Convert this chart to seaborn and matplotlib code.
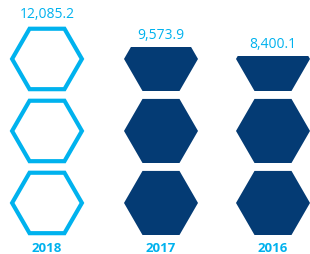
import numpy as np
import seaborn as sns
import matplotlib.pyplot as plt
from matplotlib.patches import Polygon, Rectangle

years = ['2018', '2017', '2016']
values = [12085.2, 9573.9, 8400.1]
# how many hexagons are filled in each column
filled = [3.0, 2.68, 2.54]
outlined = [True, False, False]

light = '#00b2ee'
dark = '#043b74'

sns.set_style('white')
plt.rcParams['font.family'] = ['Open Sans', 'DejaVu Sans']

fig = plt.figure(figsize=(3.1, 2.55), dpi=100)
ax = fig.add_axes([0, 0, 1, 1])
ax.set_xlim(0, 310)
ax.set_ylim(0, 255)
ax.axis('off')

centers = [47, 161, 273]
r = 37
h = np.sqrt(3) * r
pitch = 72
base = 19


def hexagon(cx, cy, rr):
    hh = np.sqrt(3) * rr / 2
    return [(cx - rr, cy), (cx - rr / 2, cy - hh), (cx + rr / 2, cy - hh),
            (cx + rr, cy), (cx + rr / 2, cy + hh), (cx - rr / 2, cy + hh)]


for cx, n, out, val, yr in zip(centers, filled, outlined, values, years):
    full = int(np.floor(n))
    rows = int(np.ceil(n))
    for i in range(rows):
        cy = base + i * pitch + h / 2
        if out:
            p = Polygon(hexagon(cx, cy, r - 2.1), closed=True, fill=False,
                        edgecolor=light, linewidth=3.0, joinstyle='miter')
        else:
            p = Polygon(hexagon(cx, cy, r), closed=True, facecolor=dark,
                        edgecolor='none')
        ax.add_patch(p)
        if i >= full:
            frac = n - full
            top = base + i * pitch + frac * h
            clip = Rectangle((0, 0), 310, top, transform=ax.transData)
            p.set_clip_path(clip)
    top = base + full * pitch - (pitch - h) if n == full else base + full * pitch + (n - full) * h
    ax.text(cx, top + 13, f'{val:,.1f}', ha='center', va='center',
            color=light, fontsize=10)
    ax.text(cx, 6, yr, ha='center', va='center', color=light,
            fontsize=9.5, fontweight='bold')

plt.savefig('out.png', dpi=100)
